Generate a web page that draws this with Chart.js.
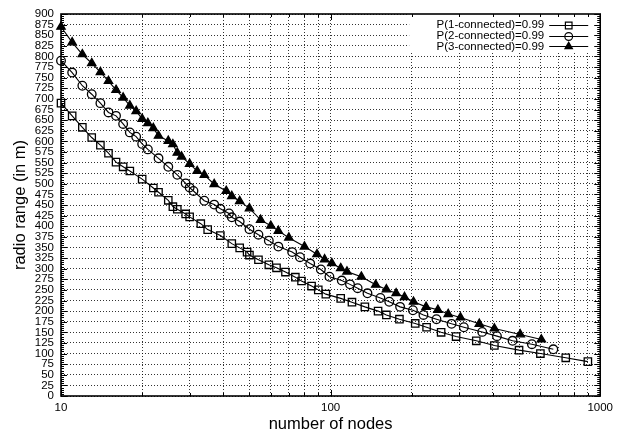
<!DOCTYPE html>
<html><head><meta charset="utf-8">
<script src="https://cdn.jsdelivr.net/npm/chart.js@4/dist/chart.umd.min.js"></script>
<style>html,body{margin:0;padding:0;background:#fff;}canvas{display:block;}</style>
</head><body>
<canvas id="c" width="618" height="437"></canvas>
<script>
// ---- data ----
const seriesLabels = ['P(1-connected)=0.99', 'P(2-connected)=0.99', 'P(3-connected)=0.99'];

const nodes1 = [10,11,12,13,14,15,16,17,18,20,22,23,25,26,27,29,30,33,35,39,43,46,49,50,54,59,63,68,74,78,85,90,96,109,120,134,150,161,180,206,227,257,292,347,405,500,600,745,900];
const range1 = [690,660,633,609,591,572,551,540,530,511,490,480,461,446,440,429,422,406,392,378,359,349,339,332,321,309,302,292,280,271,259,250,240,230,221,210,200,191,181,171,162,150,140,130,119,108,100,90,81];

const nodes2 = [10,11,12,13,14,15,16,17,18,19,20,21,23,25,27,29,30,31,34,37,39,42,43,46,50,54,59,64,72,77,84,92,99,110,118,126,137,153,165,181,202,221,247,281,312,365,414,473,558,670];
const range2 = [790,762,731,711,690,668,660,641,621,611,594,581,560,540,521,501,491,483,460,451,441,430,421,411,393,380,366,352,339,327,312,298,281,272,263,254,242,231,222,210,202,191,181,170,162,151,141,130,122,110];

const nodes3 = [10,11,12,13,14,15,16,17,18,19,20,21,22,23,25,26,27,28,30,32,34,37,41,43,46,50,55,60,64,70,80,89,95,101,109,115,130,147,161,175,188,203,226,250,273,303,356,405,505,605];
const range3 = [870,833,805,784,763,742,721,703,684,671,653,643,631,613,601,593,573,564,547,530,521,499,483,471,459,442,415,401,389,373,352,334,322,313,301,293,281,262,251,242,233,222,210,203,193,185,170,159,145,133];

const xGridValues = [10,20,30,40,50,60,70,80,90,100,200,300,400,500,600,700,800,900,1000];
const xLabelValues = [10,100,1000];
const yMin = 0, yMax = 900, yStep = 25, yMinorStep = 5;
const xTitle = 'number of nodes';
const yTitle = 'radio range (in m)';

// ---- styling ----
const FONT = '"Liberation Sans", Arial, Helvetica, sans-serif';
const nodeArrays = [nodes1, nodes2, nodes3];
const rangeArrays = [range1, range2, range3];
const pStyles = ['rect', 'circle', 'triangle'];
const pRadius = [5.2, 4.3, 4.8];
const pFill = ['rgba(0,0,0,0)', 'rgba(0,0,0,0)', '#000'];

Chart.defaults.color = '#000';
Chart.defaults.font.family = FONT;

const framePlugin = {
  id: 'frame',
  afterDraw(chart) {
    const ctx = chart.ctx, a = chart.chartArea, x = chart.scales.x, y = chart.scales.y;
    ctx.save();
    // legend box
    ctx.fillStyle = '#fff';
    ctx.fillRect(a.right - 191, a.top, 191, 39);
    ctx.font = '11.5px ' + FONT;
    ctx.textAlign = 'right';
    ctx.textBaseline = 'middle';
    chart.data.datasets.forEach((ds, i) => {
      const ry = a.top + 11 + i * 10.7;
      ctx.fillStyle = '#000';
      ctx.fillText(ds.label, a.right - 56, ry);
      ctx.strokeStyle = '#000';
      ctx.lineWidth = 1;
      ctx.beginPath();
      ctx.moveTo(a.right - 51, Math.round(ry) + 0.5);
      ctx.lineTo(a.right - 12, Math.round(ry) + 0.5);
      ctx.stroke();
      ctx.fillStyle = ds.pointBackgroundColor;
      ctx.lineWidth = 1.2;
      Chart.helpers.drawPoint(ctx, {pointStyle: ds.pointStyle, radius: ds.pointRadius * 0.9, borderWidth: 1.2, rotation: 0}, a.right - 31.5, Math.round(ry) + 0.5);
    });
    // tick marks
    ctx.strokeStyle = '#000';
    ctx.lineWidth = 1;
    const seg = (x1, y1, x2, y2) => { ctx.beginPath(); ctx.moveTo(x1, y1); ctx.lineTo(x2, y2); ctx.stroke(); };
    for (let v = yMin; v <= yMax; v += yMinorStep) {
      const p = Math.round(y.getPixelForValue(v)) + 0.5;
      const len = (v % yStep === 0) ? 6 : 3;
      seg(a.left, p, a.left + len, p);
      seg(a.right, p, a.right - len, p);
    }
    for (const v of xGridValues) {
      const p = Math.round(x.getPixelForValue(v)) + 0.5;
      const len = xLabelValues.includes(v) ? 6 : 3;
      seg(p, a.bottom, p, a.bottom - len);
      seg(p, a.top, p, a.top + len);
    }
    ctx.lineWidth = 1.6;
    ctx.strokeRect(a.left, a.top, a.right - a.left, a.bottom - a.top);
    ctx.restore();
  }
};

new Chart(document.getElementById('c'), {
  type: 'scatter',
  data: {
    datasets: seriesLabels.map((lab, i) => ({
      label: lab,
      data: nodeArrays[i].map((n, j) => ({x: n, y: rangeArrays[i][j]})),
      showLine: true,
      borderColor: '#000',
      borderWidth: 1.1,
      pointStyle: pStyles[i],
      pointRadius: pRadius[i],
      pointBorderWidth: 1.3,
      pointBorderColor: '#000',
      pointBackgroundColor: pFill[i],
      clip: false,
      tension: 0
    }))
  },
  options: {
    responsive: false,
    devicePixelRatio: 1,
    animation: false,
    events: [],
    layout: {padding: {top: 14, right: 14, left: 0, bottom: 0}},
    plugins: {legend: {display: false}, tooltip: {enabled: false}},
    scales: {
      x: {
        type: 'logarithmic',
        min: 10, max: 1000,
        afterBuildTicks: (s) => { s.ticks = xGridValues.map(v => ({value: v, major: xLabelValues.includes(v)})); },
        afterFit: (s) => { s.height = 41; },
        ticks: {
          autoSkip: false, maxRotation: 0, padding: 5,
          font: {size: 11.5},
          callback: (v) => xLabelValues.includes(v) ? String(v) : ''
        },
        grid: {color: 'rgba(0,0,0,0.8)', lineWidth: 1, drawTicks: false},
        border: {display: false, dash: [1, 2]},
        title: {display: true, text: xTitle, font: {size: 16.5}, padding: {top: 0, bottom: 3}}
      },
      y: {
        type: 'linear',
        min: yMin, max: yMax,
        afterFit: (s) => { s.width = 61; },
        ticks: {stepSize: yStep, autoSkip: false, padding: 7, font: {size: 11.5}},
        grid: {color: 'rgba(0,0,0,0.8)', lineWidth: 1, drawTicks: false},
        border: {display: false, dash: [1, 2]},
        title: {display: true, text: yTitle, font: {size: 16.5}, padding: {top: 11, bottom: 0}}
      }
    }
  },
  plugins: [framePlugin]
});
</script>
</body></html>
